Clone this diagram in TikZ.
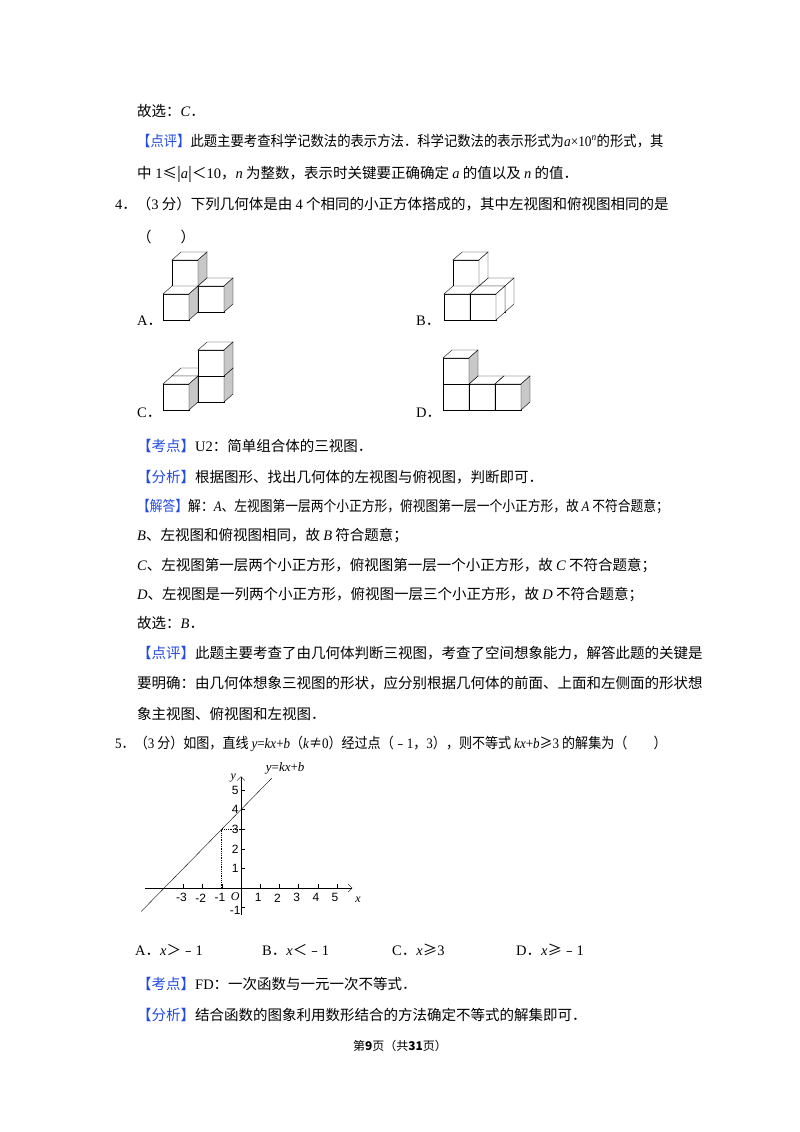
\documentclass[tikz,border=0pt]{standalone}
\usepackage{fontspec}
\setmainfont{Noto Sans CJK SC}
\newfontfamily\latin{Liberation Serif}
\newfontfamily\plotfont{Liberation Sans}
\usetikzlibrary{arrows.meta}
\definecolor{tagblue}{RGB}{35,75,225}
\definecolor{cubegray}{RGB}{200,200,200}
\newcommand\mv[1]{{\latin\itshape #1}}
\newcommand\nm[1]{{\latin #1}}
\newcommand\tag[1]{{\color{tagblue}【#1】}}
\newcommand\squeeze[2]{\scalebox{#1}[1]{#2}}
% one small cube: origin x, origin y, column, layer, depth, side colour
\newcommand\cubeat[6]{%
  \begin{scope}[shift={(#1+#3*26+#5*9,#2-#4*26-#5*8)}]
    \filldraw[fill=white] (0,0) rectangle (26,-26);
    \filldraw[fill=white] (0,-26) -- (26,-26) -- (35,-34) -- (9,-34) -- cycle;
    \filldraw[fill=#6] (26,0) -- (35,-8) -- (35,-34) -- (26,-26) -- cycle;
  \end{scope}}
\begin{document}
\begin{tikzpicture}[x=1pt,y=-1pt,
% common options for text lines:
line/.style = {anchor=base west, inner sep=0, font=\fontsize{14.5}{16}\selectfont},
% common options for the plot labels:
tick/.style = {inner sep=0, font=\plotfont\fontsize{12}{13}\selectfont}]
\fill[white] (0,0) rectangle (800,1132);
\useasboundingbox (0,0) rectangle (800,1132);
\node[line] (L1) at (137,116) {故选：\mv{C}．};
\node[line] (L2) at (137,146) {\squeeze{0.92}{\tag{点评}此题主要考查科学记数法的表示方法．科学记数法的表示形式为\mv{a}\nm{×10}\textsuperscript{\mv{n}}的形式，其}};
\node[line] (L3) at (137,178) {中\nm{ 1}≤|\mv{a}|＜\nm{10}，\mv{n} 为整数，表示时关键要正确确定 \mv{a} 的值以及 \mv{n} 的值．};
\node[line] (Q4) at (115,209) {\nm{4}．（\nm{3} 分）下列几何体是由 \nm{4} 个相同的小正方体搭成的，其中左视图和俯视图相同的是};
\node[line] (Q4b) at (137,242) {（\qquad）};
% the four solids
\node[line] (LA) at (137,325) {\nm{A}．};
\node[line] (LB) at (416,325) {\nm{B}．};
\node[line] (LC) at (137,417) {\nm{C}．};
\node[line] (LD) at (416,417) {\nm{D}．};
\cubeat{163}{320}{0}{0}{1}{cubegray}
\cubeat{163}{320}{0}{1}{1}{cubegray}
\cubeat{163}{320}{1}{0}{1}{cubegray}
\cubeat{163}{320}{0}{0}{0}{cubegray}
\cubeat{444}{320}{0}{0}{1}{white}
\cubeat{444}{320}{1}{0}{1}{white}
\cubeat{444}{320}{0}{1}{1}{white}
\cubeat{444}{320}{0}{0}{0}{white}
\cubeat{444}{320}{1}{0}{0}{white}
\cubeat{163}{410}{0}{0}{1}{cubegray}
\cubeat{163}{410}{1}{0}{1}{cubegray}
\cubeat{163}{410}{1}{1}{1}{cubegray}
\cubeat{163}{410}{0}{0}{0}{cubegray}
\cubeat{443}{410}{0}{0}{0}{cubegray}
\cubeat{443}{410}{1}{0}{0}{cubegray}
\cubeat{443}{410}{2}{0}{0}{cubegray}
\cubeat{443}{410}{0}{1}{0}{cubegray}
\node[line] (K4) at (137,451) {\tag{考点}\nm{U2}：简单组合体的三视图．};
\node[line] (F4) at (137,482) {\tag{分析}根据图形、找出几何体的左视图与俯视图，判断即可．};
\node[line] (J4) at (137,511) {\squeeze{0.88}{\tag{解答}解：\mv{A}、左视图第一层两个小正方形，俯视图第一层一个小正方形，故 \mv{A} 不符合题意；}};
\node[line] (J4b) at (137,540) {\mv{B}、左视图和俯视图相同，故 \mv{B} 符合题意；};
\node[line] (J4c) at (137,570) {\mv{C}、左视图第一层两个小正方形，俯视图第一层一个小正方形，故 \mv{C} 不符合题意；};
\node[line] (J4d) at (137,599) {\mv{D}、左视图是一列两个小正方形，俯视图一层三个小正方形，故 \mv{D} 不符合题意；};
\node[line] (J4e) at (137,628) {故选：\mv{B}．};
\node[line] (P4) at (137,658) {\tag{点评}此题主要考查了由几何体判断三视图，考查了空间想象能力，解答此题的关键是};
\node[line] (P4b) at (137,688) {要明确：由几何体想象三视图的形状，应分别根据几何体的前面、上面和左侧面的形状想};
\node[line] (P4c) at (137,719) {象主视图、俯视图和左视图．};
\node[line] (Q5) at (115,748) {\squeeze{0.9}{\nm{5}．（\nm{3} 分）如图，直线 \mv{y}\nm{=}\mv{kx}\nm{+}\mv{b}（\mv{k}≠\nm{0}）经过点（﹣\nm{1}，\nm{3}），则不等式 \mv{kx}\nm{+}\mv{b}≥\nm{3} 的解集为（\qquad）}};
% the graph
\begin{scope}[shift={(241,888)},x={(19.2pt,0)},y={(0,19.6pt)}]
\coordinate (xs) at (-5,0);  \coordinate (xe) at (5.8,0);
\coordinate (ys) at (0,-1.4); \coordinate (ye) at (0,5.7);
\coordinate (ls) at (-5.2,-1.2); \coordinate (le) at (1.6,5.6);
\coordinate (px) at (-1,0); \coordinate (pp) at (-1,3); \coordinate (py) at (0,3);
\draw[-{Straight Barb[length=4pt]}] (xs) -- (xe);
\draw[-{Straight Barb[length=4pt]}] (ys) -- (ye);
\draw (ls) -- (le);
\draw[densely dotted, thick] (px) -- (pp) -- (py);
\foreach \k in {-3,-2,-1,1,2,3,4,5} \draw (\k,0) -- (\k,0.2);
\foreach \k in {-1,1,2,3,4,5} \draw (0,\k) -- (0.2,\k);
\foreach \k in {-3,-2,-1} \node[tick] (xl\k) at (\k-0.1,-0.5) {\k};
\foreach \k in {1,2,3,4,5} \node[tick] (xl\k) at (\k-0.1,-0.5) {\k};
\foreach \k in {1,2,3,4,5} \node[tick] (yl\k) at (-0.3,\k) {\k};
\node[tick] (ylm) at (-0.3,-1.15) {-1};
\node[tick] (orig) at (-0.3,-0.45) {\mv{O}};
\node[tick] (xn) at (6.1,-0.6) {\mv{x}};
\node[tick] (yn) at (-0.4,5.6) {\mv{y}};
\node[tick] (fn) at (2.3,6.1) {\latin\fontsize{13}{14}\selectfont\itshape y\upshape=\itshape kx\upshape+\itshape b};
\end{scope}
\node[line] (OA) at (135,955) {\nm{A}．\mv{x}＞﹣\nm{1}};
\node[line] (OB) at (262,955) {\nm{B}．\mv{x}＜﹣\nm{1}};
\node[line] (OC) at (392,955) {\nm{C}．\mv{x}≥\nm{3}};
\node[line] (OD) at (516,955) {\nm{D}．\mv{x}≥﹣\nm{1}};
\node[line] (K5) at (137,989) {\tag{考点}\nm{FD}：一次函数与一元一次不等式．};
\node[line] (F5) at (137,1020) {\tag{分析}结合函数的图象利用数形结合的方法确定不等式的解集即可．};
\node[anchor=base, inner sep=0, font=\fontsize{12}{14}\selectfont] (foot) at (400,1050) {第\textbf{9}页（共\textbf{31}页）};
\end{tikzpicture}
\end{document}
